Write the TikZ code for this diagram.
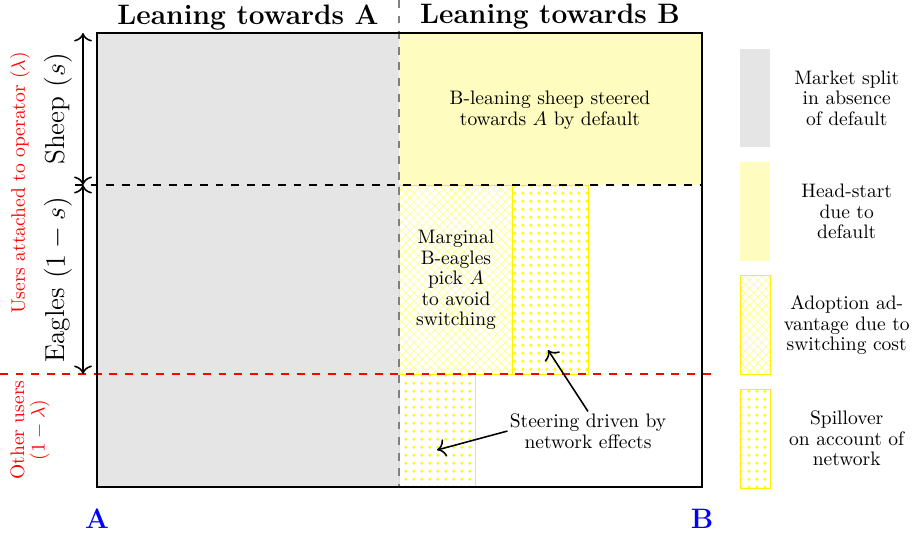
\documentclass[tikz,border=0pt]{standalone}
\usepackage{amsmath}
\usetikzlibrary{positioning, arrows.meta, patterns.meta}

\begin{document}
\begin{tikzpicture}[
		x=0.018cm, y=-0.018cm,
		node distance=0.25cm,
		>={To[scale=1.3]},
		txt/.style={align=center, font=\fontsize{10}{10.5}\selectfont},
		lean/.style={font=\Large\bfseries},
		side/.style={rotate=90, font=\fontsize{14}{16}\selectfont},
		redlbl/.style={rotate=90, align=center, text=red, font=\fontsize{10}{10.5}\selectfont},
		endlbl/.style={text=blue, font=\Large\bfseries},
		divider/.style={thick, dash pattern=on 4pt off 4pt},
		grayarea/.style={fill=gray!20},
		headarea/.style={fill=yellow!25},
		switcharea/.style={draw=yellow, pattern={Hatch[angle=45, distance=3pt, line width=0.4pt]}, pattern color=yellow!40},
		spillarea/.style={draw=yellow, pattern={Dots[radius=0.9pt, distance=4pt]}, pattern color=yellow},
		legbox/.style={minimum width=0.54cm, minimum height=1.78cm, inner sep=0pt}
	]
	\useasboundingbox (0,0) rectangle (912,533);

	% corners of the market
	\coordinate (nw) at (97,33);
	\coordinate (se) at (702,487);
	\coordinate (midtop) at (399,33);
	\coordinate (midbot) at (399,487);

	% areas
	\fill[grayarea] (nw) rectangle (midbot);
	\fill[headarea] (midtop) rectangle (702,185);
	\draw[switcharea] (399,185) rectangle (512,374);
	\draw[spillarea] (512,185) rectangle (588,374);
	\draw[spillarea] (399,374) rectangle (475,487);

	% dividers
	\coordinate (lamleft) at (0,374);
	\coordinate (lamright) at (712,374);
	\coordinate (sheepleft) at (75,185);
	\coordinate (sheepright) at (702,185);
	\coordinate (midup) at (399,0);
	\draw[divider, gray, semithick] (midup) -- (midbot);
	\draw[divider] (sheepleft) -- (sheepright);
	\draw[divider, red] (lamleft) -- (lamright);
	\draw[thick] (nw) rectangle (se);

	% headings
	\node[lean] (leanA) at (248,17) {Leaning towards A};
	\node[lean] (leanB) at (550,17) {Leaning towards B};
	\node[endlbl] (endA) at (97,519) {A};
	\node[endlbl] (endB) at (702,519) {B};

	% user groups
	\coordinate (ytop) at (83,33);
	\coordinate (ysheep) at (83,185);
	\coordinate (yeagle) at (83,374);
	\draw[<->, thick] (ytop) -- (ysheep) node[midway, side, anchor=south, yshift=2pt] {Sheep $(s)$};
	\draw[<->, thick] (ysheep) -- (yeagle) node[midway, side, anchor=south, yshift=2pt] {Eagles $(1-s)$};
	\node[redlbl] (attached) at (20,183) {Users attached to operator $(\lambda)$};
	\node[redlbl] (others) at (30,430) {Other users\\$(1-\lambda)$};

	% explanations
	\node[txt] (sheepB) at (550,110) {B-leaning sheep steered\\towards $A$ by default};
	\node[txt] (marginal) at (456,280) {Marginal\\B-eagles\\pick $A$\\to avoid\\switching};
	\node[txt, inner sep=1pt] (steer) at (588,431) {Steering driven by\\network effects};
	\coordinate (spillup) at (548,350);
	\coordinate (spilldown) at (437,450);
	\draw[->, thick] (steer.north) -- (spillup);
	\draw[->, thick] (steer.west) -- (spilldown);

	% legend
	\node[legbox, grayarea] (lgray) at (755,98) {};
	\node[legbox, headarea, below=of lgray] (lhead) {};
	\node[legbox, switcharea, below=of lhead] (lswitch) {};
	\node[legbox, spillarea, below=of lswitch] (lspill) {};
	\node[txt, text width=2.3cm, right=0.1cm of lgray] (tgray) {Market split\\in absence\\of default};
	\node[txt, text width=2.3cm, right=0.1cm of lhead] (thead) {Head-start\\due to\\default};
	\node[txt, text width=2.3cm, right=0.1cm of lswitch] (tswitch) {Adoption ad-\\vantage due to\\switching cost};
	\node[txt, text width=2.3cm, right=0.1cm of lspill] (tspill) {Spillover\\on account of\\network};
\end{tikzpicture}
\end{document}
